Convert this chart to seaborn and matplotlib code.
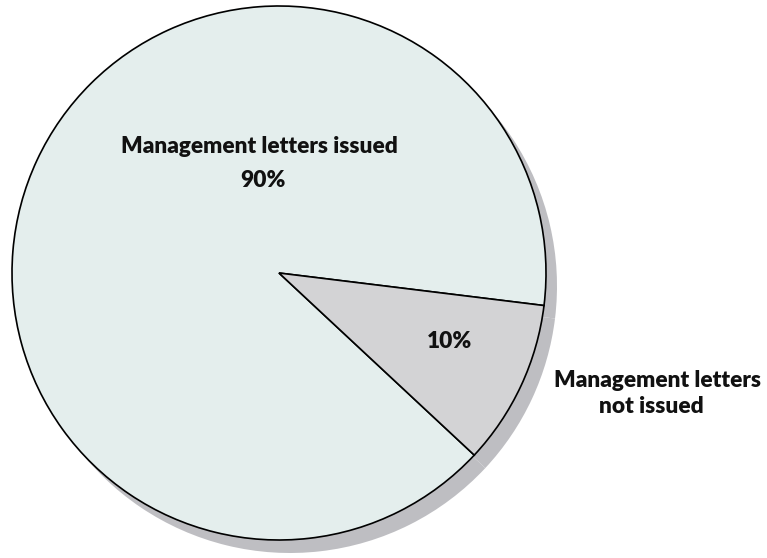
import numpy as np
import matplotlib
matplotlib.use("Agg")
import matplotlib.pyplot as plt
import seaborn as sns

sns.set_theme(style="white")
plt.rcParams['font.family'] = ['Lato', 'DejaVu Sans']

# 数据
categories = ["Management letters issued", "Management letters\nnot issued"]
shares = [90, 10]
pct_labels = ["90%", "10%"]

slice_colors = ["#E4EEED", "#D3D3D5"]
shadow_color = "#BEBEC2"

W, H = 767, 558
fig = plt.figure(figsize=(W / 100, H / 100), dpi=100)
ax = fig.add_axes([0, 0, 1, 1])

cx, cy, r = 279, H - 273, 267

# 阴影
ax.pie(shares, colors=[shadow_color] * 2, startangle=-7, radius=r,
       center=(cx + 11, cy - 13), wedgeprops=dict(linewidth=0))
# 主饼图
ax.pie(shares, colors=slice_colors, startangle=-7, radius=r,
       center=(cx, cy), wedgeprops=dict(edgecolor="black", linewidth=1.2))

ax.set_xlim(0, W)
ax.set_ylim(0, H)
ax.set_aspect("equal")
ax.axis("off")

fs = 16.3
txt = dict(fontsize=fs, fontweight="heavy", color="#111111", va="baseline", ha="center")
ax.text(259, H - 153, categories[0], **txt)
ax.text(263, H - 187, pct_labels[0], **txt)
ax.text(449, H - 348, pct_labels[1], **txt)
# 外部标签，两行分别放
line1, line2 = categories[1].split("\n")
ax.text(657, H - 387, line1, **txt)
ax.text(651, H - 413, line2, **txt)

fig.savefig("out.png", dpi=100)
plt.close()
